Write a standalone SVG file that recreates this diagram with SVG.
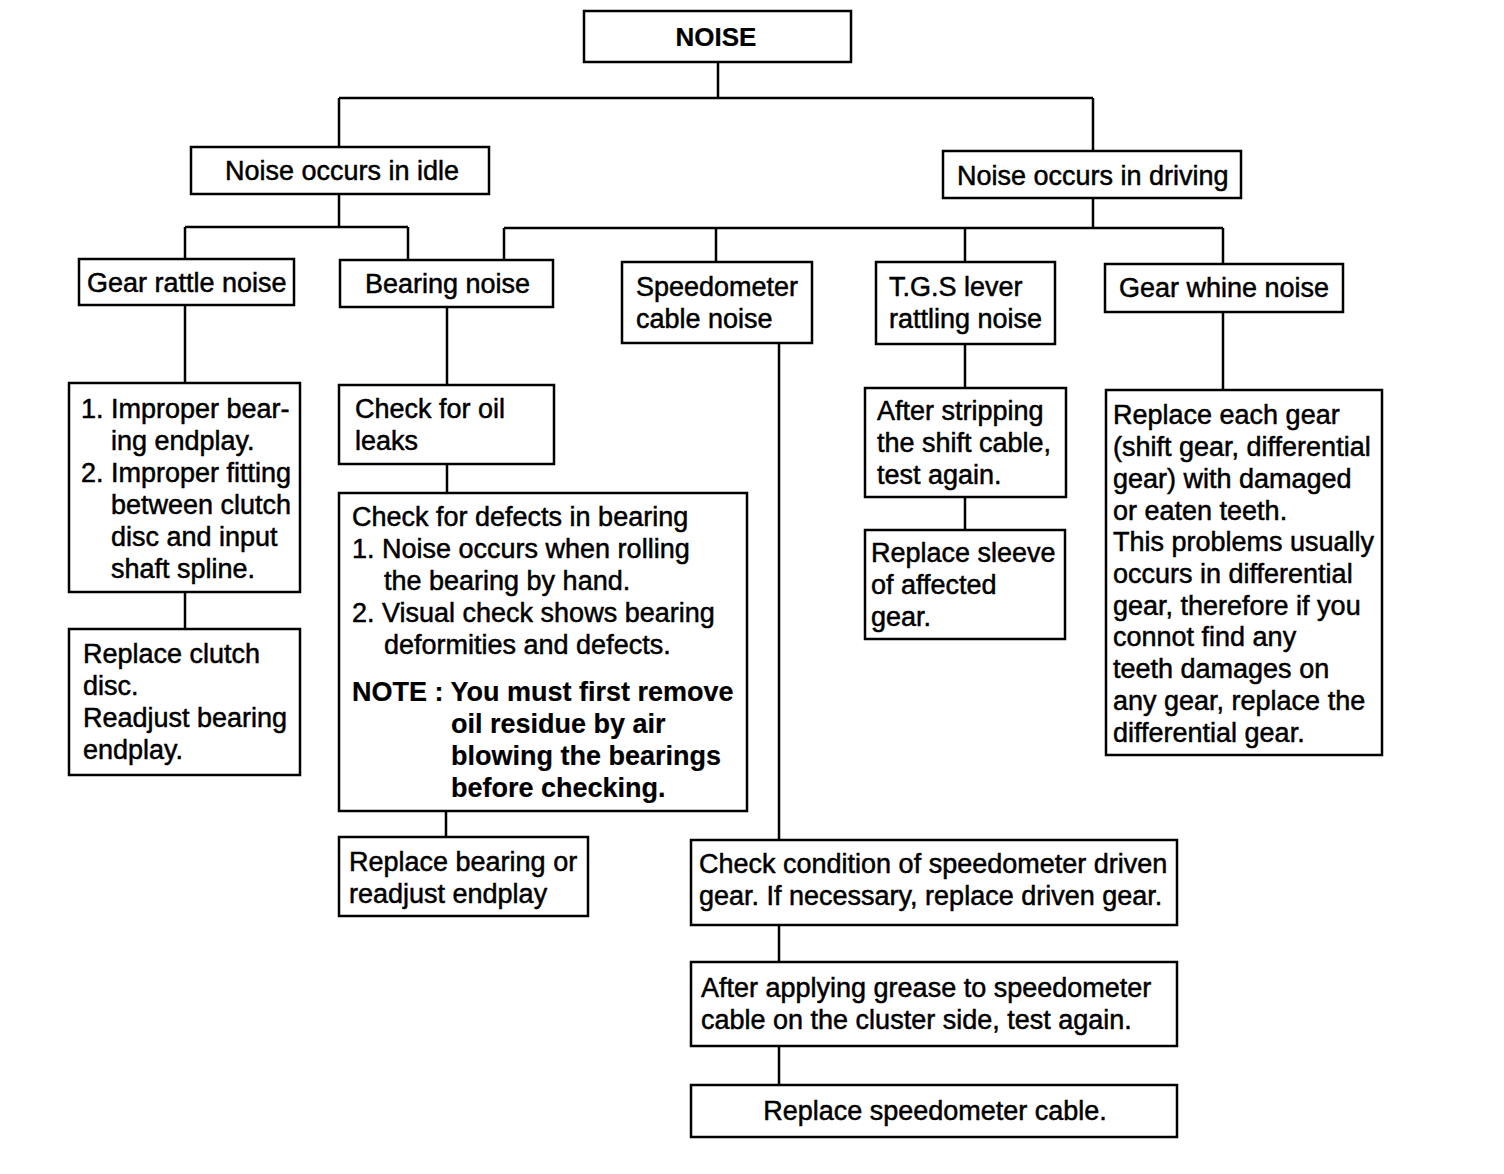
<svg xmlns="http://www.w3.org/2000/svg" width="1504" height="1174" viewBox="0 0 1504 1174">
<style>
rect{fill:#fff;stroke:#000;stroke-width:2.5}
.c path{fill:none;stroke:#000;stroke-width:2.5}
text{font-family:"Liberation Sans",Arial,sans-serif;font-size:27px;fill:#000;stroke:#000;stroke-width:0.5}
.b{font-weight:bold;stroke-width:0.2}
</style>
<rect x="0" y="0" width="1504" height="1174" style="stroke:none"/>
<g class="c" id="connectors">
<path d="M718 62V98M339 98H1093M339 98V147M1093 98V151"/>
<path d="M339 194V227M185 227H408M185 227V259M408 227V260"/>
<path d="M1093 198V228M504 228H1223M504 228V260M716 228V262M965 228V262M1223 228V264"/>
<path d="M185 305V383M447 307V385M779 343V840M965 344V388M1223 312V390"/>
<path d="M185 592V629M447 464V493M446 811V837M965 497V530M779 925V962M779 1046V1085"/>
</g>
<g id="noise"><rect x="584" y="11" width="267" height="51"/><text class="b" x="716" y="46" text-anchor="middle" style="font-size:26px">NOISE</text></g>
<g id="idle"><rect x="191" y="147" width="298" height="47"/><text x="225" y="180">Noise occurs in idle</text></g>
<g id="driving"><rect x="943" y="151" width="298" height="47"/><text x="957" y="185">Noise occurs in driving</text></g>
<g id="gear-rattle"><rect x="79" y="259" width="215" height="46"/><text x="87" y="292">Gear rattle noise</text></g>
<g id="bearing-noise"><rect x="340" y="260" width="213" height="47"/><text x="365" y="293">Bearing noise</text></g>
<g id="speedo-noise"><rect x="622" y="262" width="190" height="81"/><text x="636" y="296">Speedometer</text><text x="636" y="328">cable noise</text></g>
<g id="tgs"><rect x="876" y="262" width="179" height="82"/><text x="889" y="296">T.G.S lever</text><text x="889" y="328">rattling noise</text></g>
<g id="gear-whine"><rect x="1105" y="264" width="238" height="48"/><text x="1119" y="297">Gear whine noise</text></g>
<g id="improper"><rect x="69" y="383" width="231" height="209"/>
<text x="81" y="418">1. Improper bear-</text>
<text x="111" y="450">ing endplay.</text>
<text x="81" y="482">2. Improper fitting</text>
<text x="111" y="514">between clutch</text>
<text x="111" y="546">disc and input</text>
<text x="111" y="578">shaft spline.</text></g>
<g id="replace-clutch"><rect x="69" y="629" width="231" height="146"/>
<text x="83" y="663">Replace clutch</text>
<text x="83" y="695">disc.</text>
<text x="83" y="727">Readjust bearing</text>
<text x="83" y="759">endplay.</text></g>
<g id="oil-leaks"><rect x="339" y="385" width="215" height="79"/>
<text x="355" y="418">Check for oil</text>
<text x="355" y="450">leaks</text></g>
<g id="defects"><rect x="339" y="493" width="408" height="318"/>
<text x="352" y="526">Check for defects in bearing</text>
<text x="352" y="558">1. Noise occurs when rolling</text>
<text x="384" y="590">the bearing by hand.</text>
<text x="352" y="622">2. Visual check shows bearing</text>
<text x="384" y="654">deformities and defects.</text>
<text class="b" x="352" y="701">NOTE : You must first remove</text>
<text class="b" x="451" y="733">oil residue by air</text>
<text class="b" x="451" y="765">blowing the bearings</text>
<text class="b" x="451" y="797">before checking.</text></g>
<g id="replace-bearing"><rect x="339" y="837" width="249" height="79"/>
<text x="349" y="871">Replace bearing or</text>
<text x="349" y="903">readjust endplay</text></g>
<g id="stripping"><rect x="865" y="388" width="201" height="109"/>
<text x="877" y="420">After stripping</text>
<text x="877" y="452">the shift cable,</text>
<text x="877" y="484">test again.</text></g>
<g id="sleeve"><rect x="865" y="530" width="200" height="109"/>
<text x="871" y="562">Replace sleeve</text>
<text x="871" y="594">of affected</text>
<text x="871" y="626">gear.</text></g>
<g id="replace-gear"><rect x="1106" y="390" width="276" height="365"/>
<text x="1113" y="424">Replace each gear</text>
<text x="1113" y="456">(shift gear, differential</text>
<text x="1113" y="488">gear) with damaged</text>
<text x="1113" y="520">or eaten teeth.</text>
<text x="1113" y="551">This problems usually</text>
<text x="1113" y="583">occurs in differential</text>
<text x="1113" y="615">gear, therefore if you</text>
<text x="1113" y="646">connot find any</text>
<text x="1113" y="678">teeth damages on</text>
<text x="1113" y="710">any gear, replace the</text>
<text x="1113" y="742">differential gear.</text></g>
<g id="driven-gear"><rect x="691" y="840" width="486" height="85"/>
<text x="699" y="873">Check condition of speedometer driven</text>
<text x="699" y="905">gear. If necessary, replace driven gear.</text></g>
<g id="grease"><rect x="691" y="962" width="486" height="84"/>
<text x="701" y="997">After applying grease to speedometer</text>
<text x="701" y="1029">cable on the cluster side, test again.</text></g>
<g id="replace-cable"><rect x="691" y="1085" width="486" height="52"/>
<text x="935" y="1120" text-anchor="middle">Replace speedometer cable.</text></g>
</svg>
